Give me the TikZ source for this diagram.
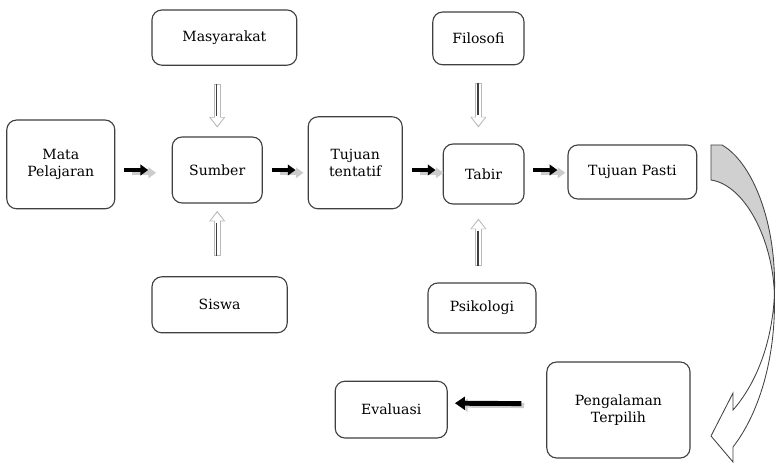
\documentclass[tikz,border=0pt]{standalone}
\usepackage{fontspec}
\setmainfont{DejaVu Serif}
\definecolor{boxline}{HTML}{404040}
\definecolor{ribbon}{HTML}{D0D0D0}
\definecolor{ghost}{HTML}{CCCCCC}
\usetikzlibrary{arrows.meta, calc}
\tikzset{
  box/.style={draw=boxline, line width=0.8pt, fill=white, rounded corners=7pt,
    align=center, inner sep=0pt, font=\fontsize{10}{12.5}\selectfont},
  blk/.style={line width=3.5pt, -{Triangle[width=7.5pt,length=5.5pt]}},
  blkshadow/.style={blk, ghost},
  hollowout/.style={gray!55, line width=5pt, -{Triangle[width=11pt,length=7.5pt]}},
  hollowin/.style={white, line width=3.6pt, shorten >=1.3pt, shorten <=0.7pt,
    -{Triangle[width=8.8pt,length=5.8pt]}},
  stem/.style={line width=1.2pt, black!75},
}

\begin{document}
\begin{tikzpicture}
  \useasboundingbox (0,0) rectangle (19.4,11.6);
  \foreach \n/\x/\y/\w/\h/\txt in {
    mata/1.52/7.49/2.70/2.22/{Mata\\Pelajaran},
    sumber/5.43/7.35/2.25/1.65/Sumber,
    tentatif/8.88/7.53/2.35/2.30/{Tujuan\\tentatif},
    tabir/12.09/7.25/2.02/1.50/Tabir,
    pasti/15.81/7.30/3.22/1.35/{Tujuan Pasti},
    masy/5.61/10.66/3.62/1.38/Masyarakat,
    filosofi/11.96/10.64/2.28/1.32/Filosofi,
    siswa/5.49/3.98/3.38/1.40/Siswa,
    psikologi/12.05/3.90/2.70/1.25/Psikologi,
    peng/15.46/1.35/3.58/2.40/{Pengalaman\\Terpilih},
    eval/9.78/1.36/2.80/1.42/Evaluasi} {
    \node[box, minimum width=\w cm, minimum height=\h cm] (\n) at (\x,\y) {\txt};
  }
  \foreach \n in {mata, sumber, tentatif, tabir} {
    \draw[blkshadow] ([xshift=0.42cm,yshift=-0.07cm]\n.east |- sumber.east) -- ++(0.6,0);
    \draw[blk] ([xshift=0.22cm]\n.east |- sumber.east) -- ++(0.6,0);
  }
  \coordinate (m1) at ([yshift=-0.45cm]masy.south -| sumber.north);
  \coordinate (m2) at ([yshift=0.22cm]sumber.north);
  \coordinate (s1) at ([yshift=0.5cm]siswa.north -| sumber.south);
  \coordinate (s2) at ([yshift=-0.18cm]sumber.south);
  \coordinate (f1) at ([yshift=-0.43cm]filosofi.south);
  \coordinate (f2) at ([yshift=0.4cm]tabir.north -| filosofi.south);
  \coordinate (p1) at ([yshift=0.4cm]psikologi.north -| filosofi.south);
  \coordinate (p2) at ([yshift=-0.35cm]tabir.south -| filosofi.south);
  \foreach \a/\b in {m1/m2, s1/s2, f1/f2, p1/p2} {
    \draw[hollowout] (\a) -- (\b);
    \draw[hollowin] (\a) -- (\b);
    \draw[stem] ([xshift=-0.4pt]\a) -- ([xshift=-0.4pt]$(\b)!0.3cm!(\a)$);
  }
  \draw[blkshadow, -{Triangle[width=9pt,length=7pt]}] ([xshift=-0.55cm,yshift=0.11cm]peng.west) -- ([xshift=0.25cm,yshift=0.11cm]eval.east);
  \draw[blk, -{Triangle[width=9pt,length=7pt]}] ([xshift=-0.62cm,yshift=0.16cm]peng.west) -- ([xshift=0.18cm,yshift=0.16cm]eval.east);
  \filldraw[draw=boxline, fill=ribbon, line width=0.6pt] (17.775,7.975) -- (18.05,7.975)
    .. controls (18.8,7.55) and (19.425,6.05) .. (19.36,4.225)
    .. controls (19.325,5.6) and (18.625,6.975) .. (17.775,7.1) -- cycle;
  \filldraw[draw=boxline, fill=white, line width=0.6pt] (19.36,4.225)
    .. controls (19.4,2.6) and (18.95,1.225) .. (18.325,0.425) -- (18.325,0.05)
    -- (17.775,0.7) -- (18.325,1.775) -- (18.325,1.35)
    .. controls (18.875,1.975) and (19.3,2.975) .. (19.36,4.225) -- cycle;
\end{tikzpicture}
\end{document}
